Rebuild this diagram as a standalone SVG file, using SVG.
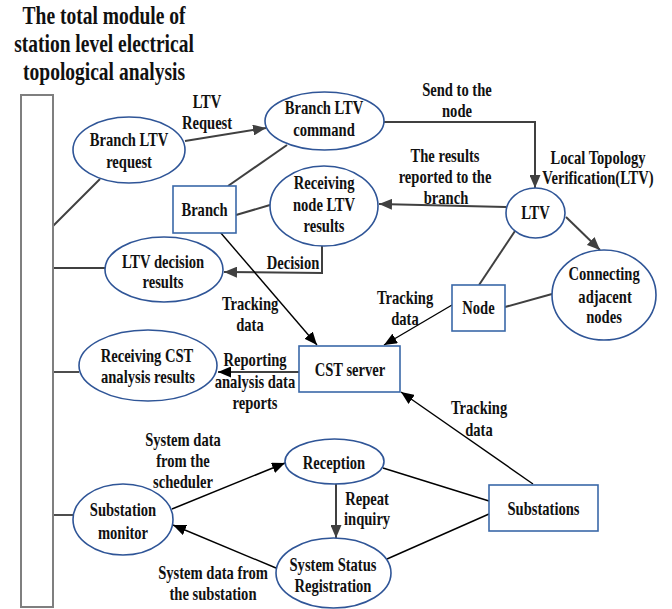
<svg xmlns="http://www.w3.org/2000/svg" width="672" height="609" viewBox="0 0 672 609">
  <style>
    text { font-family: "Liberation Serif", "Times New Roman", serif; font-weight: bold; fill: #111; text-anchor: middle;
           transform-box: fill-box; transform-origin: center; transform: scaleX(0.81); }
    .title { font-size: 25px; transform: scaleX(0.78); }
    .lbl { font-size: 18px; }
    .proc { fill: #fff; stroke: #2F5597; stroke-width: 1.6; }
    .ent { fill: #fff; stroke: #3A68A8; stroke-width: 1.6; }
    .bar { fill: #fff; stroke: #7F7F7F; stroke-width: 2; }
    .g { fill: none; stroke: #404040; stroke-width: 2; }
    .k { fill: none; stroke: #000; stroke-width: 1.4; }
    .ga { marker-end: url(#ahGray); }
    .ka { marker-end: url(#ahBlack); }
  </style>
  <defs>
    <marker id="ahGray" markerUnits="userSpaceOnUse" markerWidth="13" markerHeight="11" refX="13" refY="5.5" orient="auto">
      <path d="M0,0 L13,5.5 L0,11 z" fill="#404040"/>
    </marker>
    <marker id="ahBlack" markerUnits="userSpaceOnUse" markerWidth="13" markerHeight="11" refX="13" refY="5.5" orient="auto">
      <path d="M0,0 L13,5.5 L0,11 z" fill="#000"/>
    </marker>
  </defs>

  <!-- title -->
  <g id="title">
    <text class="title" x="104" y="24">The total module of</text>
    <text class="title" x="104" y="52">station level electrical</text>
    <text class="title" x="104" y="80">topological analysis</text>
  </g>

  <!-- connectors -->
  <g id="connectors">
    <line class="g" x1="53" y1="226" x2="100" y2="179"/>
    <line class="g" x1="53" y1="268" x2="105" y2="268"/>
    <line class="k" x1="53" y1="372" x2="79" y2="372"/>
    <line class="k" x1="53" y1="515" x2="73" y2="515"/>
    <line class="g" x1="228" y1="186" x2="287" y2="145"/>
    <line class="g" x1="236" y1="215" x2="270" y2="205"/>
    <line class="g" x1="515" y1="231" x2="479" y2="285"/>
    <line class="g" x1="505" y1="307" x2="552" y2="294"/>
    <line class="k" x1="383" y1="468" x2="489" y2="501"/>
    <line class="k" x1="387" y1="559" x2="489" y2="514"/>

    <line class="g ga" x1="185" y1="141" x2="266" y2="128"/>
    <polyline class="g ga" points="384,122 535,122 535,188"/>
    <line class="g ga" x1="506" y1="207" x2="379" y2="204"/>
    <line class="g ga" x1="566" y1="217" x2="600" y2="250"/>
    <polyline class="g ga" points="322,246 322,273 224,272"/>
    <line class="k ka" x1="220" y1="232" x2="317" y2="345"/>
    <line class="k ka" x1="452" y1="305" x2="384" y2="345"/>
    <line class="k ka" x1="299" y1="372" x2="218" y2="372"/>
    <line class="k ka" x1="533" y1="484" x2="401" y2="392"/>
    <line class="g ga" x1="336" y1="484" x2="336" y2="538"/>
    <line class="k ka" x1="172" y1="509" x2="285" y2="463"/>
    <line class="k ka" x1="276" y1="568" x2="173" y2="525"/>
  </g>

  <!-- connector labels -->
  <g id="labels">
    <text class="lbl" x="207" y="108">LTV</text>
    <text class="lbl" x="207" y="129">Request</text>
    <text class="lbl" x="457" y="96">Send to the</text>
    <text class="lbl" x="457" y="117">node</text>
    <text class="lbl" x="598" y="164">Local Topology</text>
    <text class="lbl" x="598" y="184">Verification(LTV)</text>
    <text class="lbl" x="445" y="162">The results</text>
    <text class="lbl" x="445" y="183">reported to the</text>
    <text class="lbl" x="446" y="204">branch</text>
    <text class="lbl" x="293" y="269">Decision</text>
    <text class="lbl" x="250" y="310">Tracking</text>
    <text class="lbl" x="250" y="331">data</text>
    <text class="lbl" x="405" y="304">Tracking</text>
    <text class="lbl" x="405" y="325">data</text>
    <text class="lbl" x="255" y="366">Reporting</text>
    <text class="lbl" x="255" y="388">analysis data</text>
    <text class="lbl" x="255" y="409">reports</text>
    <text class="lbl" x="479" y="414">Tracking</text>
    <text class="lbl" x="479" y="436">data</text>
    <text class="lbl" x="183" y="446">System data</text>
    <text class="lbl" x="183" y="467">from the</text>
    <text class="lbl" x="183" y="488">scheduler</text>
    <text class="lbl" x="367" y="505">Repeat</text>
    <text class="lbl" x="367" y="525">inquiry</text>
    <text class="lbl" x="213" y="579">System data from</text>
    <text class="lbl" x="213" y="600">the substation</text>
  </g>

  <!-- nodes -->
  <g id="module-bar">
    <rect class="bar" x="21" y="95" width="32" height="512"/>
  </g>
  <g id="branch-ltv-request">
    <ellipse class="proc" cx="129" cy="150" rx="56" ry="33"/>
    <text class="lbl" x="129" y="146">Branch LTV</text>
    <text class="lbl" x="129" y="168">request</text>
  </g>
  <g id="branch-ltv-command">
    <ellipse class="proc" cx="324.5" cy="121" rx="59.5" ry="29"/>
    <text class="lbl" x="324" y="114">Branch LTV</text>
    <text class="lbl" x="324" y="136">command</text>
  </g>
  <g id="branch">
    <rect class="ent" x="173" y="186" width="63" height="47"/>
    <text class="lbl" x="204.5" y="216">Branch</text>
  </g>
  <g id="receiving-node-ltv">
    <ellipse class="proc" cx="324" cy="206" rx="54" ry="40"/>
    <text class="lbl" x="324" y="189">Receiving</text>
    <text class="lbl" x="324" y="211">node LTV</text>
    <text class="lbl" x="324" y="232">results</text>
  </g>
  <g id="ltv">
    <ellipse class="proc" cx="535.5" cy="213" rx="29.5" ry="25"/>
    <text class="lbl" x="535.5" y="219">LTV</text>
  </g>
  <g id="connecting-adjacent-nodes">
    <ellipse class="proc" cx="604" cy="295" rx="52" ry="45"/>
    <text class="lbl" x="604" y="280">Connecting</text>
    <text class="lbl" x="605" y="303">adjacent</text>
    <text class="lbl" x="604" y="323">nodes</text>
  </g>
  <g id="node">
    <rect class="ent" x="452" y="285" width="53" height="46"/>
    <text class="lbl" x="478.5" y="314">Node</text>
  </g>
  <g id="ltv-decision-results">
    <ellipse class="proc" cx="164" cy="269.5" rx="59" ry="32.5"/>
    <text class="lbl" x="163" y="268">LTV decision</text>
    <text class="lbl" x="163" y="288">results</text>
  </g>
  <g id="receiving-cst-results">
    <ellipse class="proc" cx="148" cy="365.5" rx="69" ry="35.5"/>
    <text class="lbl" x="147" y="362">Receiving CST</text>
    <text class="lbl" x="148" y="383">analysis results</text>
  </g>
  <g id="cst-server">
    <rect class="ent" x="299" y="346" width="101" height="46"/>
    <text class="lbl" x="350" y="376">CST server</text>
  </g>
  <g id="reception">
    <ellipse class="proc" cx="334.5" cy="461.5" rx="49.5" ry="22.5"/>
    <text class="lbl" x="334" y="469">Reception</text>
  </g>
  <g id="substations">
    <rect class="ent" x="489" y="485" width="109" height="46"/>
    <text class="lbl" x="543.5" y="515">Substations</text>
  </g>
  <g id="system-status-registration">
    <ellipse class="proc" cx="333.5" cy="573" rx="57.5" ry="35"/>
    <text class="lbl" x="333" y="571">System Status</text>
    <text class="lbl" x="333" y="592">Registration</text>
  </g>
  <g id="substation-monitor">
    <ellipse class="proc" cx="123" cy="519.5" rx="50" ry="35.5"/>
    <text class="lbl" x="123" y="516">Substation</text>
    <text class="lbl" x="123" y="539">monitor</text>
  </g>
</svg>
